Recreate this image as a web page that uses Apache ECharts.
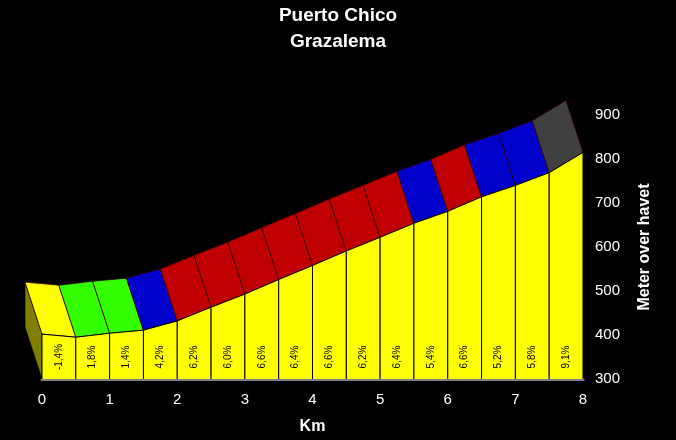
<!DOCTYPE html>
<html>
<head>
<meta charset="utf-8">
<script src="https://cdn.jsdelivr.net/npm/echarts@6/dist/echarts.min.js"></script>
<style>
  html, body { margin: 0; padding: 0; background: #000; }
  #chart { width: 676px; height: 440px; }
</style>
</head>
<body>
<div id="chart"></div>
<script>
// km marks at each 0.5 km, elevation (m)
const kms = [0, 0.5, 1, 1.5, 2, 2.5, 3, 3.5, 4, 4.5, 5, 5.5, 6, 6.5, 7, 7.5, 8];
const elevations = [402, 395, 404, 411, 432, 463, 493, 526, 558, 591, 622, 654, 681, 714, 740, 769, 815];
const gradeLabels = ['-1,4%', '1,8%', '1,4%', '4,2%', '6,2%', '6,0%', '6,6%', '6,4%',
  '6,6%', '6,2%', '6,4%', '5,4%', '6,6%', '5,2%', '5,8%', '9,1%'];
const segColors = ['#ffff00', '#33ff00', '#33ff00', '#0000cc', '#c00000', '#c00000', '#c00000', '#c00000',
  '#c00000', '#c00000', '#c00000', '#0000cc', '#c00000', '#0000cc', '#0000cc', '#404040'];
const xTicks = ['0', '1', '2', '3', '4', '5', '6', '7', '8'];

const BASE = 300;
const DEPTH = [-17, -52]; // pseudo-3d offset of the back edge, px

const chart = echarts.init(document.getElementById('chart'));

function shift(p) {
  return [p[0] + DEPTH[0], p[1] + DEPTH[1]];
}

function renderSegment(params, api) {
  const i = api.value(0);
  const a0 = api.coord([kms[i], BASE]);
  const a1 = api.coord([kms[i], elevations[i]]);
  const b1 = api.coord([kms[i + 1], elevations[i + 1]]);
  const b0 = api.coord([kms[i + 1], BASE]);
  const children = [];
  if (i === 0) {
    // left side face
    children.push({
      type: 'polygon',
      shape: { points: [a0, a1, shift(a1), shift(a0)] },
      style: { fill: '#808000', stroke: '#000', lineWidth: 0.6 }
    });
  }
  // top face
  children.push({
    type: 'polygon',
    shape: { points: [a1, b1, shift(b1), shift(a1)] },
    style: { fill: segColors[i], stroke: '#300000', lineWidth: 0.8 }
  });
  // front face
  children.push({
    type: 'polygon',
    shape: { points: [a0, a1, b1, b0] },
    style: { fill: '#ffff00' }
  });
  children.push({
    type: 'polyline',
    shape: { points: [a0, a1, b1, b0] },
    style: { stroke: '#000', lineWidth: 1, fill: null }
  });
  const mid = api.coord([(kms[i] + kms[i + 1]) / 2, BASE]);
  children.push({
    type: 'text',
    x: mid[0],
    y: mid[1] - 22,
    rotation: Math.PI / 2,
    style: {
      text: gradeLabels[i],
      fill: '#000',
      font: '10px Arial',
      align: 'center',
      verticalAlign: 'middle'
    }
  });
  return { type: 'group', children: children };
}

const option = {
  backgroundColor: '#000',
  animation: false,
  title: {
    text: 'Puerto Chico\nGrazalema',
    left: 'center',
    top: -2,
    textStyle: { color: '#fff', fontFamily: 'Arial', fontWeight: 'bold', fontSize: 19, lineHeight: 26 }
  },
  grid: { left: 42, right: 93, top: 115, bottom: 61 },
  xAxis: {
    type: 'value',
    min: 0,
    max: 8,
    interval: 1,
    name: 'Km',
    nameLocation: 'middle',
    nameGap: 40,
    nameTextStyle: { color: '#fff', fontFamily: 'Arial', fontWeight: 'bold', fontSize: 16 },
    axisLine: { show: true, lineStyle: { color: '#808080', width: 3 } },
    axisTick: { show: false },
    splitLine: { show: false },
    axisLabel: {
      color: '#fff', fontFamily: 'Arial', fontSize: 15, margin: 13,
      formatter: v => xTicks[Math.round(v)]
    }
  },
  yAxis: {
    type: 'value',
    position: 'right',
    min: 300,
    max: 900,
    interval: 100,
    name: 'Meter over havet',
    nameLocation: 'middle',
    nameRotate: 90,
    nameGap: 54,
    nameTextStyle: { color: '#fff', fontFamily: 'Arial', fontWeight: 'bold', fontSize: 16 },
    axisLine: { show: false },
    axisTick: { show: false },
    splitLine: { show: false },
    axisLabel: { color: '#fff', fontFamily: 'Arial', fontSize: 15, margin: 12 }
  },
  series: [{
    type: 'custom',
    renderItem: renderSegment,
    clip: false,
    data: gradeLabels.map((g, i) => [i]),
    encode: { x: 0 }
  }]
};

chart.setOption(option);
</script>
</body>
</html>
